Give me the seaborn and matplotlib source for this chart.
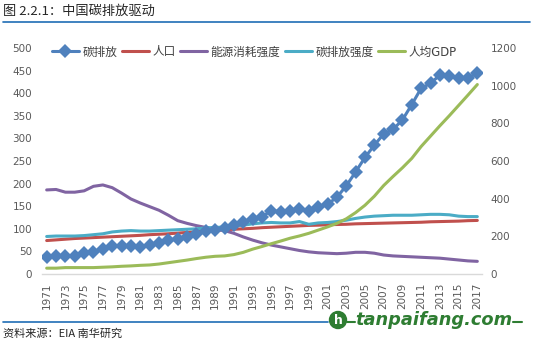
import matplotlib
matplotlib.use("Agg")
import matplotlib.pyplot as plt
import seaborn as sns
import pandas as pd
from matplotlib.lines import Line2D
from matplotlib.patches import Ellipse

# ---- data -------------------------------------------------------------
years = list(range(1971, 2018))

# carbon emissions and GDP per capita are read against the right axis
carbon = [89, 96, 96, 98, 113, 118, 134, 149, 151, 149, 146, 154, 166, 178, 187,
          197, 211, 226, 233, 242, 259, 274, 293, 305, 336, 331, 336, 343, 334, 355,
          370, 408, 468, 542, 619, 684, 744, 768, 818, 900, 986, 1013, 1056, 1049,
          1042, 1042, 1066]
gdp_per_capita = [31, 31, 34, 34, 34, 34, 36, 38, 41, 43, 46, 48, 53, 60, 67, 74,
                  82, 89, 94, 96, 103, 115, 132, 146, 161, 175, 190, 202, 216, 233,
                  250, 269, 293, 326, 365, 413, 470, 518, 564, 614, 677, 732, 787,
                  840, 895, 950, 1006]

# population, energy intensity and carbon intensity use the left axis
population = [74, 75.5, 77, 78.5, 79.5, 80.5, 81.5, 82.5, 83.5, 84.5, 85.5, 87, 88,
              89, 90.5, 92, 93.5, 95, 96.5, 98, 99, 100, 101, 102.5, 103.5, 104.5,
              105.5, 106.5, 107.5, 108, 109, 109.5, 110, 111, 111.5, 112, 112.5, 113,
              113.5, 114, 114.5, 115.5, 116, 116.5, 117, 118, 118.5]
energy_intensity = [186, 187, 181, 181, 184, 194, 197, 191, 179, 166, 157, 149, 141,
                    130, 118, 112, 107, 103, 99, 96, 90, 82, 75, 69, 64, 60, 56, 52,
                    49, 47, 46, 45, 46, 48, 48, 46, 42, 40, 39, 38, 37, 36, 35, 33,
                    31, 29, 28]
carbon_intensity = [83, 84, 84, 84, 85, 87, 89, 93, 95, 96, 95, 95, 96, 97, 98, 99,
                    100, 102, 103, 104, 106, 108, 111, 113, 114, 113, 113, 116, 110,
                    113, 114, 116, 119, 123, 126, 128, 129, 130, 130, 130, 131, 132,
                    132, 131, 128, 127, 127]

left_ticks = list(range(0, 501, 50))
right_ticks = list(range(0, 1201, 200))
year_labels = [str(y) for y in years[::2]]

names = ["碳排放", "人口", "能源消耗强度", "碳排放强度", "人均GDP"]
colors = ["#4F81BD", "#C0504D", "#8064A2", "#4BACC6", "#9BBB59"]

df = pd.DataFrame({"year": years, "carbon": carbon, "population": population,
                   "energy": energy_intensity, "cintensity": carbon_intensity,
                   "gdp": gdp_per_capita})

# ---- figure -----------------------------------------------------------
sns.set_theme(style="white")
plt.rcParams["font.family"] = ["DejaVu Sans", "Noto Sans CJK SC"]

W, H = 533, 342
fig = plt.figure(figsize=(W / 100, H / 100), dpi=100)


def fx(px):
    return px / W


def fy(py):
    return 1 - py / H


ax = fig.add_axes([fx(42), fy(274), fx(482) - fx(42), fy(48) - fy(274)])
ax2 = ax.twinx()

lw = 2.2
sns.lineplot(data=df, x="year", y="population", ax=ax, color=colors[1], lw=lw)
sns.lineplot(data=df, x="year", y="energy", ax=ax, color=colors[2], lw=lw)
sns.lineplot(data=df, x="year", y="cintensity", ax=ax, color=colors[3], lw=lw)
sns.lineplot(data=df, x="year", y="carbon", ax=ax2, color=colors[0], lw=lw,
             marker="D", markersize=7.2, markeredgewidth=0)
sns.lineplot(data=df, x="year", y="gdp", ax=ax2, color=colors[4], lw=lw)

tick_color = "#595959"
ax.set_xlim(1970.5, 2017.5)
ax.set_ylim(0, 500)
ax2.set_ylim(0, 1200)
ax.set_yticks(left_ticks)
ax.set_yticklabels([str(t) for t in left_ticks])
ax2.set_yticks(right_ticks)
ax2.set_yticklabels([str(t) for t in right_ticks])
ax.set_xticks(years[::2])
ax.set_xticklabels(year_labels, rotation=90)
for a in (ax, ax2):
    a.set_xlabel("")
    a.set_ylabel("")
    a.tick_params(axis="both", length=0, labelsize=7.5, colors=tick_color)
    for s in a.spines.values():
        s.set_visible(False)
ax.tick_params(axis="x", pad=6)
ax.tick_params(axis="y", pad=7)
ax2.tick_params(axis="y", pad=6)
ax.spines["bottom"].set_visible(True)
ax.spines["bottom"].set_color("#D9D9D9")
ax.spines["bottom"].set_linewidth(1)
ax.grid(False)
ax2.grid(False)

handles = [Line2D([], [], color=colors[0], lw=lw, marker="D", markersize=7,
                  markeredgewidth=0)]
handles += [Line2D([], [], color=c, lw=lw) for c in colors[1:]]
ax2.legend(handles, names, loc="center left",
           bbox_to_anchor=(fx(52), fy(52)), bbox_transform=fig.transFigure,
           ncol=5, frameon=False, fontsize=8.4, labelcolor="#404040",
           handlelength=2.3, handletextpad=0.3, columnspacing=0.4,
           borderaxespad=0, borderpad=0)

# ---- header and footer --------------------------------------------------
rule_color = "#1F6DB5"
fig.text(fx(3), fy(11), "图 2.2.1：中国碳排放驱动", fontsize=9.5, color="#262626",
         va="center", ha="left", family=["Noto Sans CJK SC", "DejaVu Sans"])
fig.add_artist(Line2D([fx(3), fx(530)], [fy(22), fy(22)], color=rule_color, lw=1.2))

fig.add_artist(Line2D([fx(3), fx(328)], [fy(322), fy(322)], color=rule_color, lw=1.2))
fig.text(fx(3), fy(334), "资料来源：EIA 南华研究", fontsize=8, color="#262626",
         va="center", ha="left", family=["Noto Sans CJK SC", "DejaVu Sans"])

logo_green = "#2E7D32"
fig.add_artist(Ellipse((fx(338), fy(320)), 17 / W, 17 / H, color=logo_green))
fig.text(fx(338), fy(320), "h", fontsize=9, fontweight="bold", color="white",
         ha="center", va="center")
fig.add_artist(Line2D([fx(347), fx(355)], [fy(322), fy(322)], color=logo_green, lw=1.5))
fig.text(fx(355), fy(320), "tanpaifang.com", fontsize=12.8, fontweight="bold",
         style="italic", color=logo_green, ha="left", va="center")
fig.add_artist(Line2D([fx(513), fx(522)], [fy(322), fy(322)], color=logo_green, lw=1.5))

fig.savefig("out.png", dpi=100)
